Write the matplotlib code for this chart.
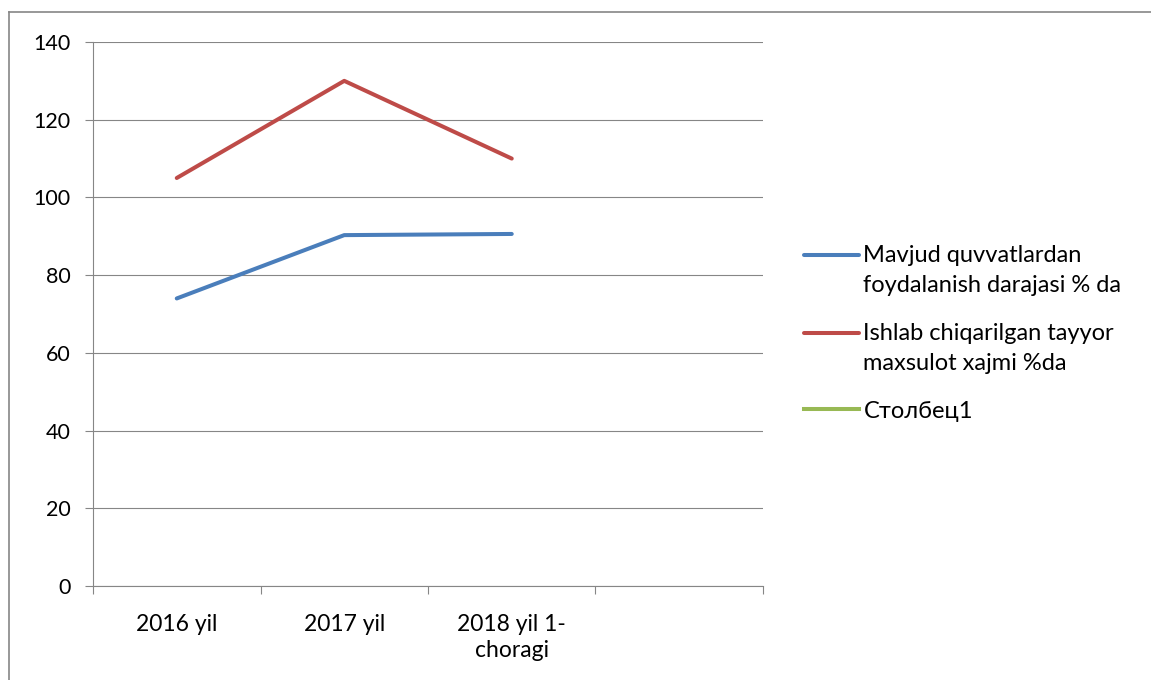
import matplotlib.pyplot as plt
from matplotlib.lines import Line2D
from matplotlib.legend_handler import HandlerLine2D

plt.rcParams['font.family'] = ['Lato', 'DejaVu Sans']

categories = ["2016 yil", "2017 yil", "2018 yil 1-\nchoragi", ""]
mavjud = [74, 90.3, 90.6]
ishlab = [105, 130, 110]
labels = ["Mavjud quvvatlardan\nfoydalanish darajasi % da",
          "Ishlab chiqarilgan tayyor\nmaxsulot xajmi %da",
          "Столбец1"]
colors = ["#4A7EBB", "#BE4B48", "#98B954"]
yticks = [0, 20, 40, 60, 80, 100, 120, 140]


# excel puts the legend line at the first text line, not in the middle
class TopLine(HandlerLine2D):
    def create_artists(self, legend, orig_handle, xdescent, ydescent, width, height, fontsize, trans):
        return super().create_artists(legend, orig_handle, xdescent, ydescent - 23,
                                      width, height, fontsize, trans)


fig = plt.figure(figsize=(11.51, 6.80), dpi=100)
ax = fig.add_axes([93/1151, 1 - 586/680, 670/1151, 544/680])

xs = [i + 0.5 for i in range(len(categories))]
l1, = ax.plot(xs[:3], mavjud, color=colors[0], lw=2.9, solid_capstyle='round', label=labels[0])
l2, = ax.plot(xs[:3], ishlab, color=colors[1], lw=2.9, solid_capstyle='round', label=labels[1])
ax.plot([], [], color=colors[2], lw=2.9, label=labels[2])

ax.set_xlim(0, len(categories))
ax.set_ylim(0, 140)
ax.set_yticks(yticks)
ax.set_xticks(range(len(categories) + 1))
ax.set_xticklabels([])
ax.set_xticks(xs, minor=True)
ax.set_xticklabels(categories, minor=True, linespacing=1.3)
ax.tick_params(axis='x', which='minor', length=0, pad=20, labelsize=16.5)
ax.tick_params(axis='x', which='major', length=6, color='#868686', width=0.8)
ax.tick_params(axis='y', length=6, color='#868686', width=0.8, labelsize=15.5, pad=10)
ax.yaxis.grid(True, color='#868686', lw=0.8)
ax.set_axisbelow(True)
for s in ['top', 'right']:
    ax.spines[s].set_visible(False)
for s in ['left', 'bottom']:
    ax.spines[s].set_color('#868686')
    ax.spines[s].set_linewidth(0.8)

leg = fig.legend(loc='upper left', bbox_to_anchor=(795/1151, 1 - 236/680), frameon=False,
                 prop={'size': 17}, handlelength=2.3, handletextpad=0.2, labelspacing=1.15,
                 borderaxespad=0, handler_map={l1: TopLine(), l2: TopLine()})
for t in leg.get_texts():
    t.set_linespacing(1.5)

# outer frame (chart area border)
fig.add_artist(Line2D([9/1151, 9/1151], [0, 1 - 12/680], color='#868686', lw=1.2))
fig.add_artist(Line2D([9/1151, 1], [1 - 12/680, 1 - 12/680], color='#868686', lw=1.2))

fig.savefig("out.png", dpi=100)
